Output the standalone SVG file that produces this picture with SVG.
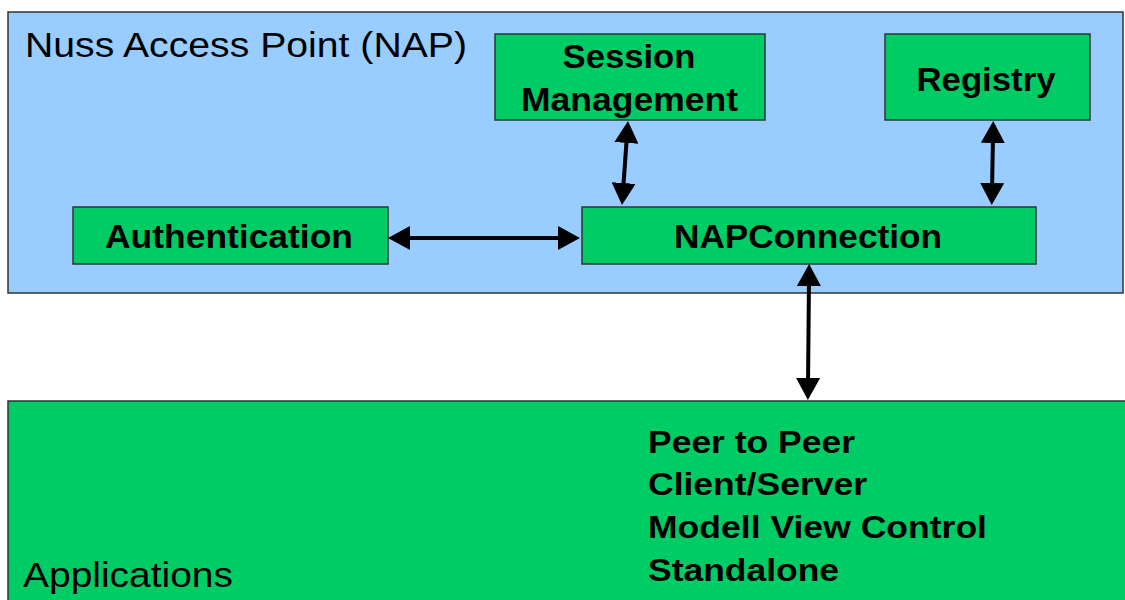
<svg xmlns="http://www.w3.org/2000/svg" width="1125" height="600" viewBox="0 0 1125 600">
<style>
.box{fill:#00CC66;stroke:#333333;stroke-width:1.5}
.area{stroke:#333333;stroke-width:1.5}
.lbl{font-family:"Liberation Sans",Arial,sans-serif;font-weight:bold;font-size:33px;fill:#000}
.lst{font-family:"Liberation Sans",Arial,sans-serif;font-weight:bold;font-size:31px;fill:#000}
.reg{font-family:"Liberation Sans",Arial,sans-serif;font-size:35px;fill:#000}
.conn{stroke:#000;stroke-width:4;fill:none;marker-start:url(#ah);marker-end:url(#ah)}
</style>
<defs>
<marker id="ah" viewBox="0 0 22 24" markerUnits="userSpaceOnUse" markerWidth="22" markerHeight="24" refX="8" refY="12" orient="auto-start-reverse">
<path d="M0,0 L22,12 L0,24 z" fill="#000"/>
</marker>
</defs>
<rect width="1125" height="600" fill="#fff"/>
<g id="nap">
<rect class="area" x="8" y="12" width="1115" height="281" fill="#99CCFF"/>
<text class="reg" x="25" y="57" textLength="442" lengthAdjust="spacingAndGlyphs">Nuss Access Point (NAP)</text>
</g>
<g id="applications">
<rect class="area" x="8" y="401" width="1130" height="210" fill="#00CC66"/>
<text class="reg" x="23" y="587" textLength="210" lengthAdjust="spacingAndGlyphs">Applications</text>
<text class="lst" x="648" y="453" textLength="207" lengthAdjust="spacingAndGlyphs">Peer to Peer</text>
<text class="lst" x="648" y="495" textLength="219" lengthAdjust="spacingAndGlyphs">Client/Server</text>
<text class="lst" x="648" y="538" textLength="339" lengthAdjust="spacingAndGlyphs">Modell View Control</text>
<text class="lst" x="648" y="581" textLength="191" lengthAdjust="spacingAndGlyphs">Standalone</text>
</g>
<g id="session">
<rect class="box" x="495" y="34" width="270" height="86"/>
<text class="lbl" x="629" y="68" text-anchor="middle" textLength="133" lengthAdjust="spacingAndGlyphs">Session</text>
<text class="lbl" x="629.5" y="111" text-anchor="middle" textLength="217" lengthAdjust="spacingAndGlyphs">Management</text>
</g>
<g id="registry">
<rect class="box" x="885" y="34" width="205" height="86"/>
<text class="lbl" x="986" y="91" text-anchor="middle" textLength="139" lengthAdjust="spacingAndGlyphs">Registry</text>
</g>
<g id="authentication">
<rect class="box" x="73" y="207" width="315" height="57"/>
<text class="lbl" x="229" y="248" text-anchor="middle" textLength="248" lengthAdjust="spacingAndGlyphs">Authentication</text>
</g>
<g id="napconnection">
<rect class="box" x="582" y="207" width="454" height="57"/>
<text class="lbl" x="808" y="248" text-anchor="middle" textLength="268" lengthAdjust="spacingAndGlyphs">NAPConnection</text>
</g>
<g id="connectors">
<line class="conn" x1="402" y1="238" x2="566" y2="238"/>
<line class="conn" x1="627" y1="135" x2="623" y2="191"/>
<line class="conn" x1="993" y1="135" x2="992" y2="191"/>
<line class="conn" x1="809" y1="278" x2="808" y2="386"/>
</g>
</svg>
